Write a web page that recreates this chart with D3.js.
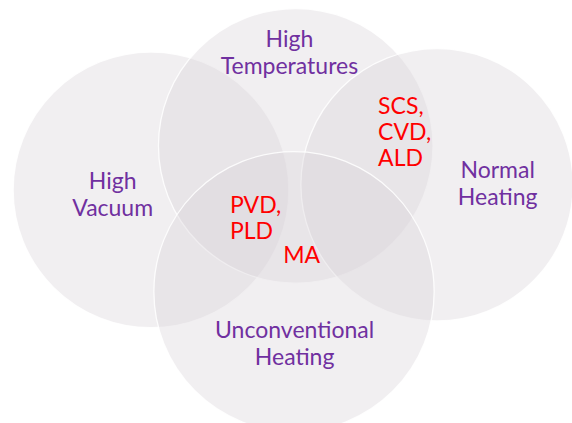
<!DOCTYPE html>
<html>
<head>
<meta charset="utf-8">
<script src="https://cdn.jsdelivr.net/npm/d3@7"></script>
<style>
  html, body { margin: 0; padding: 0; background: #fff; }
  svg { display: block; }
</style>
</head>
<body>
<div id="chart"></div>
<script>
// sets of the diagram (circle centre and radius in diagram units, 0..100 wide)
const setNames = [["High", "Vacuum"], ["High", "Temperatures"], ["Normal", "Heating"], ["Unconventional", "Heating"]];
const setCx = [26.4, 51.7, 76.4, 51.4];
const setCy = [33.2, 25.5, 32.3, 51.0];
const setR = [24.1, 24.0, 23.8, 24.5];

// where each set label sits (first baseline)
const labelX = [19.7, 50.6, 87.0, 51.5];
const labelY = [33.0, 8.2, 31.1, 59.1];

// methods placed in the overlaps
const methodNames = [["SCS,", "CVD,", "ALD"], ["PVD,", "PLD"], ["MA"]];
const methodX = [66.1, 40.2, 49.5];
const methodY = [19.9, 37.2, 45.9];

const width = 572, height = 423;
const x = d3.scaleLinear().domain([0, 100]).range([0, width]);
const y = d3.scaleLinear().domain([0, 100]).range([0, width]);
const rs = d3.scaleLinear().domain([0, 100]).range([0, width]);

const svg = d3.select("#chart").append("svg")
    .attr("width", width)
    .attr("height", height);

const sets = setNames.map((n, i) => ({ name: n, cx: setCx[i], cy: setCy[i], r: setR[i] }));

svg.append("g").selectAll("circle")
    .data(sets)
    .enter().append("circle")
    .attr("cx", d => x(d.cx))
    .attr("cy", d => y(d.cy))
    .attr("r", d => rs(d.r))
    .style("fill", "#d8d4d8")
    .style("fill-opacity", 0.36)
    .style("stroke", "#fff")
    .style("stroke-opacity", 0.85)
    .style("stroke-width", 1.3);

const font = "Lato, 'Open Sans', sans-serif";
const lineH = 27;

// set labels, purple and centred
const lab = svg.append("g").selectAll("text")
    .data(sets)
    .enter().append("text")
    .attr("x", (d, i) => x(labelX[i]))
    .attr("y", (d, i) => y(labelY[i]))
    .attr("text-anchor", "middle")
    .style("font-family", font)
    .style("font-size", "23px")
    .style("fill", "#7030a0");
lab.selectAll("tspan")
    .data(d => d.name)
    .enter().append("tspan")
    .attr("x", function () { return this.parentNode.getAttribute("x"); })
    .attr("dy", (d, j) => j ? lineH : 0)
    .text(d => d);

// method labels, red and left aligned
const met = svg.append("g").selectAll("text")
    .data(methodNames)
    .enter().append("text")
    .attr("x", (d, i) => x(methodX[i]))
    .attr("y", (d, i) => y(methodY[i]))
    .style("font-family", font)
    .style("font-size", "23px")
    .style("fill", "#ff0000");
met.selectAll("tspan")
    .data(d => d)
    .enter().append("tspan")
    .attr("x", function () { return this.parentNode.getAttribute("x"); })
    .attr("dy", (d, j) => j ? 26 : 0)
    .text(d => d);
</script>
</body>
</html>
